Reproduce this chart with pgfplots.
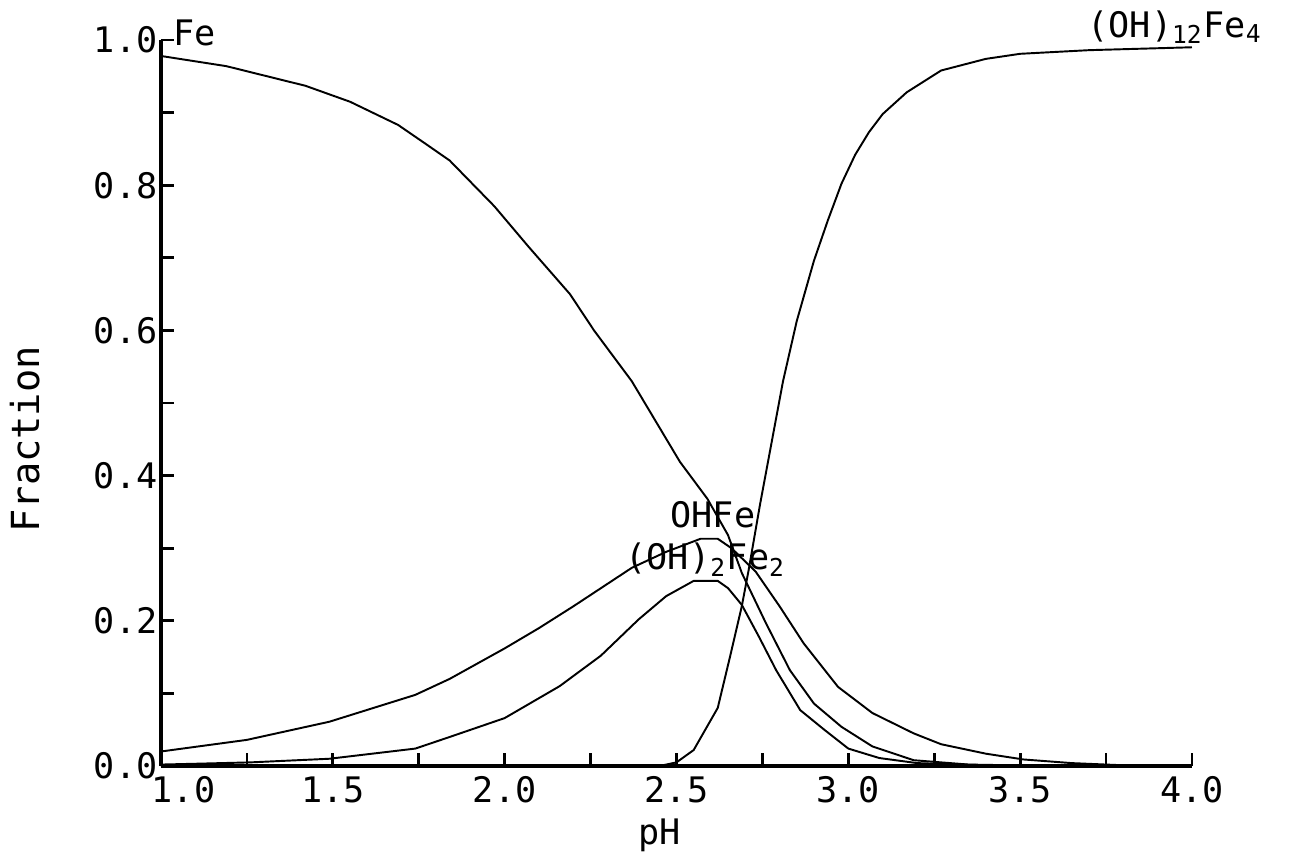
\documentclass[border=0pt]{standalone}
\usepackage{fontspec}
\setmainfont{DejaVu Sans Mono}
\usepackage{pgfplots}
\pgfplotsset{compat=1.18}

\begin{document}
\begin{tikzpicture}
\path[use as bounding box] (-1.61cm,-0.93cm) rectangle (11.43cm,7.66cm);
\begin{axis}[
    scale only axis,
    width=10.31cm, height=7.26cm,
    xmin=1, xmax=4, ymin=0, ymax=1,
    axis lines=left,
    axis line style={-, line width=0.9pt},
    tick align=inside,
    major tick length=0.13cm,
    minor tick length=0.13cm,
    tick style={line width=0.8pt, black},
    xtick={1,1.5,2,2.5,3,3.5,4},
    xticklabels={\hspace*{0.45cm}1.0,1.5,2.0,2.5,3.0,3.5,4.0},
    ytick={0,0.2,0.4,0.6,0.8,1},
    yticklabels={0.0,0.2,0.4,0.6,0.8,1.0},
    minor xtick={1.25,1.75,2.25,2.75,3.25,3.75},
    minor ytick={0.1,0.3,0.5,0.7,0.9},
    ticklabel style={font=\fontsize{10}{12}\selectfont},
    xticklabel style={yshift=0.5pt},
    yticklabel style={xshift=2.5pt},
    clip=false,
]
% Fe
\addplot[black, line width=0.55pt] coordinates {
  (1.00,0.978)(1.19,0.964)(1.42,0.937)(1.55,0.915)(1.69,0.883)(1.77,0.857)
  (1.84,0.834)(1.97,0.771)(2.07,0.715)(2.19,0.650)(2.26,0.600)(2.37,0.530)
  (2.51,0.419)(2.59,0.368)(2.65,0.318)(2.69,0.266)(2.76,0.197)(2.83,0.132)
  (2.90,0.086)(2.98,0.054)(3.07,0.027)(3.19,0.008)(3.35,0.002)(3.60,0.0)(4.00,0.0)
};
% OHFe
\addplot[black, line width=0.55pt] coordinates {
  (1.00,0.020)(1.25,0.036)(1.49,0.061)(1.74,0.098)(1.84,0.120)(2.00,0.162)
  (2.10,0.190)(2.20,0.220)(2.37,0.273)(2.47,0.295)(2.57,0.313)(2.62,0.313)
  (2.66,0.300)(2.73,0.268)(2.80,0.220)(2.87,0.169)(2.97,0.109)(3.07,0.073)
  (3.19,0.045)(3.27,0.030)(3.40,0.017)(3.51,0.009)(3.65,0.004)(3.80,0.001)(4.00,0.0)
};
% (OH)2Fe2
\addplot[black, line width=0.55pt] coordinates {
  (1.00,0.002)(1.09,0.003)(1.26,0.005)(1.49,0.010)(1.74,0.024)(1.84,0.040)
  (2.00,0.066)(2.08,0.088)(2.16,0.110)(2.28,0.152)(2.39,0.202)(2.47,0.234)
  (2.55,0.255)(2.62,0.255)(2.65,0.245)(2.69,0.222)(2.74,0.178)(2.79,0.132)
  (2.86,0.077)(2.93,0.050)(3.00,0.024)(3.09,0.011)(3.20,0.004)(3.40,0.001)(4.00,0.0)
};
% (OH)12Fe4
\addplot[black, line width=0.55pt] coordinates {
  (1.00,0.0)(2.45,0.0)(2.50,0.005)(2.55,0.022)(2.62,0.080)(2.656,0.151)
  (2.69,0.220)(2.71,0.270)(2.743,0.360)(2.81,0.530)(2.85,0.613)(2.90,0.696)
  (2.94,0.751)(2.98,0.802)(3.02,0.842)(3.06,0.873)(3.10,0.898)(3.17,0.928)
  (3.27,0.958)(3.40,0.974)(3.50,0.981)(3.70,0.986)(4.00,0.990)
};
\node[anchor=base west, inner sep=0pt, font=\fontsize{10}{12}\selectfont] at (axis cs:1.035,0.993) {Fe};
\node[anchor=base west, inner sep=0pt, font=\fontsize{10}{12}\selectfont] at (axis cs:3.694,1.004) {(OH)\textsubscript{12}Fe\textsubscript{4}};
\node[anchor=base west, inner sep=0pt, font=\fontsize{10}{12}\selectfont] at (axis cs:2.481,0.328) {OHFe};
\node[anchor=base west, inner sep=0pt, font=\fontsize{10}{12}\selectfont] at (axis cs:2.35,0.270) {(OH)\textsubscript{2}Fe\textsubscript{2}};
\node[rotate=90, font=\fontsize{11}{13}\selectfont] at (axis description cs:-0.132,0.45) {Fraction};
\node[font=\fontsize{10}{12}\selectfont] at (axis description cs:0.484,-0.095) {pH};
\end{axis}
\end{tikzpicture}
\end{document}
